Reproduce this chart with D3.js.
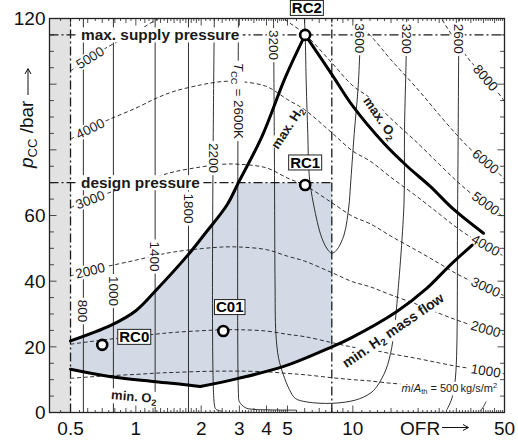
<!DOCTYPE html>
<html>
<head>
<meta charset="utf-8">
<title>Operating envelope</title>
<script src="https://cdn.jsdelivr.net/npm/d3@7/dist/d3.min.js"></script>
<style>
  html, body { margin: 0; padding: 0; background: #fff; }
  svg { display: block; font-family: "Liberation Sans", Arial, Helvetica, sans-serif; }
</style>
</head>
<body>
<svg id="chart" width="518" height="444"></svg>
<script>
// ---------- axis ticks ----------
const xTickValues = [0.5, 1, 2, 3, 4, 5, 10, 50];
const yTickValues = [0, 20, 40, 60, 120];   // 80 and 100 give way to the axis title

// ---------- operating limits ----------
const ofrLimits = [0.5, 8];
const supplyPressure = 115;
const designPressure = 70;

// boundary curves, [OFR, p_cc / bar]
const maxH2 = [[0.5, 21.8], [0.77, 26.6], [1.0, 31], [1.23, 37], [1.74, 48], [2.09, 54.6],
               [2.63, 63.2], [2.97, 70], [3.81, 84], [4.88, 102], [6.03, 115]];
const maxO2 = [[6.03, 115], [8, 103], [10, 93.3], [13.9, 82], [17.8, 75], [22.8, 68.8],
               [29, 62], [40, 54.6]];
const minH2Flow = [[1.98, 7.9], [2.97, 10.4], [4.88, 14.2], [8, 20], [9.73, 22.6],
                   [15.9, 30.7], [21.9, 37.8], [28.1, 44.9], [35.5, 51]];
const minO2 = [[0.5, 13.2], [0.77, 10.9], [1.23, 9.4], [1.74, 8.4], [1.98, 7.9]];

// operating points
const pointNames = ["RC0", "C01", "RC1", "RC2"];
const pointOFR = [0.70, 2.53, 6.03, 6.03];
const pointP = [20.6, 24.8, 69.3, 115];

// combustion temperature isotherms, [OFR, p_cc]
const t800 = [[0.573, 0], [0.573, 120]];
const t1000 = [[0.788, 0], [0.788, 120]];
const t1400 = [[1.227, 0], [1.227, 120]];
const t1800 = [[1.748, 0], [1.748, 120]];
const t2200 = [[2.30, 120], [2.30, 2.5], [2.34, 1.0], [2.5, 0.4]];
const t2600 = [[2.97, 120], [2.97, 6], [3.0, 3.3], [3.19, 1.5], [3.43, 1.0], [4.2, 0.8], [5.5, 0.7]];
const t3200 = [[4.31, 120], [4.35, 80], [4.38, 40], [4.42, 24], [4.55, 16.5], [4.79, 11.4],
               [5.1, 7], [5.43, 4.3], [6.16, 3.2], [8, 2.8], [10.3, 3.8], [12.0, 5.8],
               [12.9, 7.9], [14.2, 13], [15.1, 19.6], [15.5, 25], [15.9, 31.8], [17.2, 63.2],
               [17.3, 86], [17.6, 107.4], [17.7, 120]];
const t3600 = [[5.98, 120], [6.03, 115], [6.1, 100], [6.2, 85], [6.3, 72], [6.6, 63.2],
               [7.2, 53.1], [7.7, 49.4], [8.0, 48.5], [8.4, 49.4], [9.1, 54], [9.6, 63.2],
               [9.75, 69], [10.15, 85], [10.6, 100], [10.9, 120]];
const t2600lean = [[30.8, 120], [30.4, 63], [29.7, 10.5], [28.6, 4.3], [27.1, 0.8]];
const t2200lean = [[38.5, 0.5], [39.6, 1.3], [41.1, 3.3]];

// lines of constant throat mass flux (kg/s/m²), [OFR, p_cc]
const flux500 = [[0.5, 10.4], [0.6, 10.8], [0.75, 11.2], [1, 11.6], [1.25, 12.0], [1.5, 12.2],
  [2, 12.5], [2.5, 12.6], [3, 12.6], [4, 12.4], [5, 11.9], [6, 11.5], [8, 10.6], [10, 10.0],
  [12, 9.6], [15, 8.9], [16.6, 8.7]];
const flux1000 = [[0.5, 20.8], [0.6, 21.5], [0.75, 22.3], [1, 23.2], [1.25, 23.9], [1.5, 24.4],
  [2, 24.9], [2.5, 25.2], [3, 25.2], [4, 24.8], [5, 23.8], [6, 23.1], [8, 21.3], [10, 19.9],
  [12, 19.2], [15, 17.9], [20, 16.4], [25, 15.1], [30, 14.1], [35, 13.4], [40, 12.9],
  [45, 12.3], [50, 11.8]];
const flux2000 = [[0.5, 41.6], [0.6, 43.1], [0.75, 44.6], [1, 46.4], [1.25, 47.9], [1.5, 48.9],
  [2, 49.9], [2.5, 50.4], [3, 50.4], [4, 49.6], [5, 47.6], [6, 46.1], [8, 42.6], [10, 39.8],
  [12, 38.3], [15, 35.8], [20, 32.8], [25, 30.2], [30, 28.2], [35, 26.7], [40, 25.7],
  [45, 24.7], [50, 23.7]];
const flux3000 = [[0.5, 62.4], [0.6, 64.6], [0.75, 66.9], [1, 69.6], [1.25, 71.8], [1.5, 73.3],
  [2, 74.8], [2.5, 75.6], [3, 75.6], [4, 74.5], [5, 71.4], [6, 69.2], [8, 63.9], [10, 59.7],
  [12, 57.5], [15, 53.7], [20, 49.1], [25, 45.4], [30, 42.3], [35, 40.1], [40, 38.6],
  [45, 37.0], [50, 35.5]];
const flux4000 = [[0.5, 83.2], [0.6, 86.2], [0.75, 89.2], [1, 92.7], [1.25, 95.8], [1.5, 97.8],
  [2, 99.8], [2.5, 100.8], [3, 100.8], [4, 99.3], [5, 95.3], [6, 92.2], [8, 85.2], [10, 79.6],
  [12, 76.6], [15, 71.6], [20, 65.5], [25, 60.5], [30, 56.4], [35, 53.4], [40, 51.4],
  [45, 49.4], [50, 47.4]];
const flux5000 = [[0.5, 104.0], [0.6, 107.7], [0.75, 111.5], [1, 115.9], [1.25, 119.7],
  [1.5, 122.2], [2, 124.7], [2.5, 126], [3, 126], [4, 124.1], [5, 119.1], [6, 115.3],
  [8, 106.5], [10, 99.5], [12, 95.8], [15, 89.5], [20, 81.9], [25, 75.6], [30, 70.6],
  [35, 66.8], [40, 64.3], [45, 61.7], [50, 59.2]];
const flux6000 = [[6, 138.3], [8, 127.8], [10, 119.4], [12, 114.9], [15, 107.4], [20, 98.3],
  [25, 90.7], [30, 84.7], [35, 80.1], [40, 77.1], [45, 74.1], [50, 71.1]];
const flux8000 = [[15, 143.1], [20, 131.0], [25, 121.0], [30, 112.9], [35, 106.8], [40, 102.8],
  [45, 98.8], [50, 94.8]];

// ---------- scales ----------
const svg = d3.select("#chart");
const x = d3.scaleLog().domain([0.4, 50]).range([49.5, 504.5]);
const y = d3.scaleLinear().domain([0, 120]).range([412.5, 18.5]);
const [X0, X1] = x.range();
const [YB, YT] = y.range();
const ink = "#1a1a1a";

svg.append("defs").append("clipPath").attr("id", "plotArea")
  .append("rect").attr("x", X0).attr("y", YT).attr("width", X1 - X0).attr("height", YB - YT);

const smooth = d3.line().x(d => x(d[0])).y(d => y(d[1])).curve(d3.curveCatmullRom.alpha(0.5));
const straight = d3.line().x(d => x(d[0])).y(d => y(d[1]));

// value on a polyline at a given OFR (log interpolation), used for label placement
function pAt(arr, ofr) {
  for (let i = 0; i < arr.length - 1; i++) {
    const [a, pa] = arr[i], [b, pb] = arr[i + 1];
    if (ofr >= Math.min(a, b) && ofr <= Math.max(a, b)) {
      const t = a === b ? 0 : Math.log(ofr / a) / Math.log(b / a);
      return pa + t * (pb - pa);
    }
  }
  return arr[arr.length - 1][1];
}
// OFR on a polyline at a given pressure
function ofrAtP(arr, p, fromEnd) {
  const idx = d3.range(arr.length - 1);
  if (fromEnd) idx.reverse();
  for (const i of idx) {
    const [a, pa] = arr[i], [b, pb] = arr[i + 1];
    if (p >= Math.min(pa, pb) && p <= Math.max(pa, pb)) {
      const t = pa === pb ? 0 : (p - pa) / (pb - pa);
      return a * Math.pow(b / a, t);
    }
  }
  return arr[0][0];
}
function screenAngle(arr, ofr) {
  const o1 = ofr / 1.05, o2 = ofr * 1.05;
  return Math.atan2(y(pAt(arr, o2)) - y(pAt(arr, o1)), x(o2) - x(o1)) * 180 / Math.PI;
}

const plot = svg.append("g").attr("clip-path", "url(#plotArea)");

// excluded OFR band
plot.append("rect")
  .attr("x", X0).attr("y", YT)
  .attr("width", x(ofrLimits[0]) - X0).attr("height", YB - YT)
  .attr("fill", "#e2e2e2");

// operating region
const upper = maxH2.filter(d => d[1] <= designPressure);
const lowerFlow = minH2Flow.filter(d => d[0] <= ofrLimits[1]).slice().reverse();
const lowerO2 = minO2.slice().reverse();
const cont = pts => smooth(pts).replace(/^M/, "L");
const regionD = smooth(upper)
  + straight([[ofrLimits[1], designPressure], [ofrLimits[1], pAt(minH2Flow, ofrLimits[1])]]).replace(/^M/, "L")
  + cont(lowerFlow) + cont(lowerO2) + "Z";
plot.append("path").attr("d", regionD).attr("fill", "#d3dae6");

// isotherms
const isoGroup = plot.append("g").attr("fill", "none").attr("stroke", ink).attr("stroke-width", 0.9);
[t800, t1000, t1400, t1800, t2200, t2600, t3200, t3600, t2600lean, t2200lean]
  .forEach(a => isoGroup.append("path").attr("d", smooth(a)));

// mass flux lines
const fluxGroup = plot.append("g").attr("fill", "none").attr("stroke", ink)
  .attr("stroke-width", 0.9).attr("stroke-dasharray", "4,2.6");
[flux500, flux1000, flux2000, flux3000, flux4000, flux5000, flux6000, flux8000]
  .forEach(a => fluxGroup.append("path").attr("d", smooth(a)));

// dash-dot limits
const dd = plot.append("g").attr("stroke", ink).attr("stroke-width", 1.3)
  .attr("stroke-dasharray", "9,3,2,3").attr("fill", "none");
ofrLimits.forEach(v => dd.append("line").attr("x1", x(v)).attr("x2", x(v)).attr("y1", YB).attr("y2", YT));
dd.append("line").attr("x1", X0).attr("x2", X1).attr("y1", y(supplyPressure)).attr("y2", y(supplyPressure));
dd.append("line").attr("x1", X0).attr("x2", x(ofrLimits[1])).attr("y1", y(designPressure)).attr("y2", y(designPressure));

// ---------- label helper ----------
const labels = svg.append("g");
function addLabel(cx, cy, angle, size, build, opt = {}) {
  const g = labels.append("g").attr("transform", `translate(${cx},${cy}) rotate(${angle})`);
  const bg = g.append("rect").attr("fill", "#fff");
  const t = g.append("text")
    .attr("text-anchor", opt.anchor || "middle")
    .attr("font-size", size)
    .attr("font-weight", opt.weight || "normal")
    .attr("fill", ink)
    .attr("y", size * 0.36);
  build(t);
  const b = t.node().getBBox();
  const px = opt.padX ?? 1, py = opt.padY ?? -1;
  bg.attr("x", b.x - px).attr("y", b.y - py).attr("width", b.width + 2 * px).attr("height", b.height + 2 * py);
  return g;
}
const plain = s => t => t.text(s);

// isotherm labels (read downward along the lines)
const isoLabels = [
  { arr: t800, text: "800", p: 30.9 },
  { arr: t1000, text: "1000", p: 37 },
  { arr: t1400, text: "1400", p: 47.5 },
  { arr: t1800, text: "1800", p: 62.1 },
  { arr: t2200, text: "2200", p: 77.5 },
  { arr: t3200, text: "3200", p: 111.9 },
  { arr: t3600, text: "3600", p: 114, fromEnd: true },
  { arr: t3200, text: "3200", p: 113.8, fromEnd: true },
  { arr: t2600lean, text: "2600", p: 113.8 }
];
isoLabels.forEach(l => {
  addLabel(x(ofrAtP(l.arr, l.p, l.fromEnd)), y(l.p), 90, 13.5, plain(l.text), { padX: 2 });
});
addLabel(x(ofrAtP(t2600, 94.9)), y(94.9), 90, 13.5, t => {
  t.append("tspan").attr("font-style", "italic").text("T");
  t.append("tspan").attr("font-size", 9.5).attr("dy", 3).text("CC");
  t.append("tspan").attr("dy", -3).text(" = 2600K");
}, { padX: 2 });

// mass flux labels
const fluxLeft = [[flux5000, "5000"], [flux4000, "4000"], [flux3000, "3000"], [flux2000, "2000"]];
fluxLeft.forEach(([arr, s]) => {
  const o = 0.615;
  addLabel(x(o), y(pAt(arr, o)), screenAngle(arr, o), 13.5, plain(s), { padX: 2 });
});
const fluxRight = [[flux8000, "8000"], [flux6000, "6000"], [flux5000, "5000"], [flux4000, "4000"],
                   [flux3000, "3000"], [flux2000, "2000"], [flux1000, "1000"]];
fluxRight.forEach(([arr, s]) => {
  const o = 41;
  addLabel(x(o), y(pAt(arr, o)), screenAngle(arr, o), 13.5, plain(s), { padX: 2 });
});
{
  const o = flux500[flux500.length - 1][0];
  addLabel(x(o) + 1, y(pAt(flux500, o)) + 4, 0, 11, t => {
    t.append("tspan").attr("font-style", "italic").text("\u1E41");
    t.append("tspan").text("/");
    t.append("tspan").attr("font-style", "italic").text("A");
    t.append("tspan").attr("font-size", 7.5).attr("dy", 2.5).text("th");
    t.append("tspan").attr("dy", -2.5).text(" = 500\u2009kg/s/m");
    t.append("tspan").attr("font-size", 7.5).attr("dy", -4).text("2");
  }, { anchor: "start", padX: 1 });
}

// limit labels
addLabel(81, y(supplyPressure), 0, 15.4, plain("max. supply pressure"), { anchor: "start", weight: "bold", padX: 3 });
addLabel(81, y(designPressure), 0, 15.4, plain("design pressure"), { anchor: "start", weight: "bold", padX: 3 });

// boundary curve labels
const sub2 = (a, b) => t => {
  t.append("tspan").text(a);
  t.append("tspan").attr("font-size", "70%").attr("dy", 3).text("2");
  if (b) t.append("tspan").attr("dy", -3).text(b);
};
addLabel(x(4.98), y(86.8), -57, 13, sub2("max. H"), { weight: "bold", padX: 0 });
addLabel(x(13.4), y(89.7), 55, 13, sub2("max. O"), { weight: "bold", padX: 0 });
addLabel(x(15.3), y(25.1), -34.6, 14, sub2("min. H", " mass flow"), { weight: "bold", padX: 0 });
addLabel(x(0.98), y(4.9), 5, 13, sub2("min. O"), { weight: "bold", padX: 0 });

// thick boundary curves
const thick = svg.append("g").attr("clip-path", "url(#plotArea)").attr("fill", "none")
  .attr("stroke", "#000").attr("stroke-width", 3).attr("stroke-linecap", "round").attr("stroke-linejoin", "round");
[maxH2, maxO2, minH2Flow, minO2].forEach(a => thick.append("path").attr("d", smooth(a)));

// operating points
const labelOffset = { RC0: [32, -8], C01: [6.4, -24], RC1: [0, -22.5], RC2: [1.7, -27] };
const pts = svg.append("g");
pointNames.forEach((name, i) => {
  const cx = x(pointOFR[i]), cy = y(pointP[i]);
  pts.append("circle").attr("cx", cx).attr("cy", cy).attr("r", 5)
    .attr("fill", "#fff").attr("stroke", "#000").attr("stroke-width", 2.6);
  const [dx, dy] = labelOffset[name];
  const g = pts.append("g").attr("transform", `translate(${cx + dx},${cy + dy})`);
  const r = g.append("rect").attr("fill", "#fff").attr("stroke", "#222").attr("stroke-width", 1);
  const t = g.append("text").attr("text-anchor", "middle").attr("font-size", 15)
    .attr("font-weight", "bold").attr("fill", "#000").attr("y", 5.4).text(name);
  const b = t.node().getBBox();
  r.attr("x", b.x - 1.5).attr("y", -7.5).attr("width", b.width + 3).attr("height", 15);
});

// ---------- frame and ticks ----------
const axes = svg.append("g").attr("stroke", "#222").attr("fill", "none");
const tickRanges = [[0.4, 2, 0.05, 0.1], [2, 5, 0.1, 0.5], [5, 10, 0.5, 1], [10, 50, 1, 5]];
const xTickList = [];
tickRanges.forEach(([a, b, step, mid]) => {
  const n = Math.round((b - a) / step);
  for (let i = 0; i < n; i++) {
    const v = +(a + i * step).toFixed(3);
    const isMajor = xTickValues.some(t => Math.abs(t - v) < 1e-6);
    const isMid = Math.abs(v / mid - Math.round(v / mid)) < 1e-6;
    xTickList.push([v, isMajor ? 7 : isMid ? 4.5 : 2.5]);
  }
});
xTickList.push([50, 7]);
xTickList.forEach(([v, len]) => {
  if (v <= 0.4) return;
  axes.append("line").attr("x1", x(v)).attr("x2", x(v)).attr("y1", YB).attr("y2", YB - len).attr("stroke-width", 0.8);
  axes.append("line").attr("x1", x(v)).attr("x2", x(v)).attr("y1", YT).attr("y2", YT + len).attr("stroke-width", 0.8);
});
d3.range(5, 120, 5).forEach(v => {
  const len = v % 20 === 0 ? 7 : 4.5;
  axes.append("line").attr("x1", X0).attr("x2", X0 + len).attr("y1", y(v)).attr("y2", y(v)).attr("stroke-width", 0.8);
  axes.append("line").attr("x1", X1).attr("x2", X1 - len).attr("y1", y(v)).attr("y2", y(v)).attr("stroke-width", 0.8);
});
axes.append("rect").attr("x", X0).attr("y", YT).attr("width", X1 - X0).attr("height", YB - YT)
  .attr("stroke-width", 1.3);

// tick labels
const tl = svg.append("g").attr("font-size", 19).attr("fill", "#111");
xTickValues.forEach(v => tl.append("text").attr("x", x(v)).attr("y", 434.5)
  .attr("text-anchor", "middle").text(v));
yTickValues.forEach(v => tl.append("text").attr("x", 45.5).attr("y", y(v) + 6.8)
  .attr("text-anchor", "end").text(v));

// axis titles
tl.append("text").attr("x", 400).attr("y", 434.5).text("OFR");
const arrows = svg.append("g").attr("stroke", "#111").attr("stroke-width", 1).attr("fill", "none");
arrows.append("path").attr("d", "M442,427.5H468M463,424.5L468.5,427.5L463,430.5");
const yl = svg.append("text").attr("transform", "translate(33,168) rotate(-90)")
  .attr("font-size", 19).attr("fill", "#111");
yl.append("tspan").attr("font-style", "italic").text("p");
yl.append("tspan").attr("font-size", 13).attr("dy", 4).text("CC");
yl.append("tspan").attr("dy", -4).text(" /bar");
arrows.append("path").attr("d", "M28,95V69M25,74L28,68.5L31,74");
</script>
</body>
</html>
